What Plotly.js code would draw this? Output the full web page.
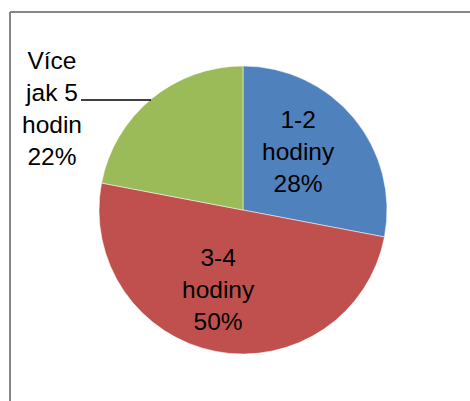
<!DOCTYPE html>
<html>
<head>
<meta charset="utf-8">
<script src="https://cdn.plot.ly/plotly-3.0.1.min.js"></script>
<style>html,body{margin:0;padding:0;background:#fff;}#chart{width:470px;height:401px;}</style>
</head>
<body>
<div id="chart"></div>
<script>
const categories = ["1-2 hodiny", "3-4 hodiny", "Více jak 5 hodin"];
const labelLines = [["1-2", "hodiny"], ["3-4", "hodiny"], ["Více", "jak 5", "hodin"]];
const values = [28, 50, 22];
const colors = ["#4F81BD", "#C0504D", "#9BBB59"];

const W = 470, H = 401;
const px = x => x / W;
const py = y => 1 - y / H;

const total = values.reduce((a, b) => a + b, 0);
const pct = values.map(v => Math.round(v / total * 100) + "%");
const labelTexts = labelLines.map((l, i) => l.concat([pct[i]]).join("<br>"));

const labelPos = [[298, 152], [218, 289], [52, 108]];

const annotations = labelTexts.map((t, i) => ({
  text: t, xref: "paper", yref: "paper",
  x: px(labelPos[i][0]), y: py(labelPos[i][1]),
  xanchor: "center", yanchor: "middle", showarrow: false,
  font: {family: "Liberation Sans, Arial, sans-serif", size: 24.5, color: "#000"}
}));

const trace = {
  type: "pie",
  labels: categories,
  values: values,
  sort: false,
  direction: "clockwise",
  rotation: 0,
  textinfo: "none",
  hoverinfo: "label+percent",
  marker: {colors: colors, line: {color: "#ffffff", width: 0.5}},
  domain: {x: [px(99), px(387)], y: [py(354), py(66)]},
  showlegend: false
};

const layout = {
  width: W, height: H,
  margin: {l: 0, r: 0, t: 0, b: 0},
  paper_bgcolor: "#ffffff",
  showlegend: false,
  annotations: annotations,
  shapes: [
    {type: "line", xref: "paper", yref: "paper", x0: px(10), x1: px(10), y0: py(12), y1: -0.05, line: {color: "#868686", width: 2}},
    {type: "line", xref: "paper", yref: "paper", x0: px(10), x1: 1.05, y0: py(12), y1: py(12), line: {color: "#868686", width: 2}},
    {type: "line", xref: "paper", yref: "paper", x0: px(81), x1: px(151), y0: py(100), y1: py(100), line: {color: "#000000", width: 1.5}}
  ]
};

Plotly.newPlot("chart", [trace], layout, {displayModeBar: false, staticPlot: true});
</script>
</body>
</html>
